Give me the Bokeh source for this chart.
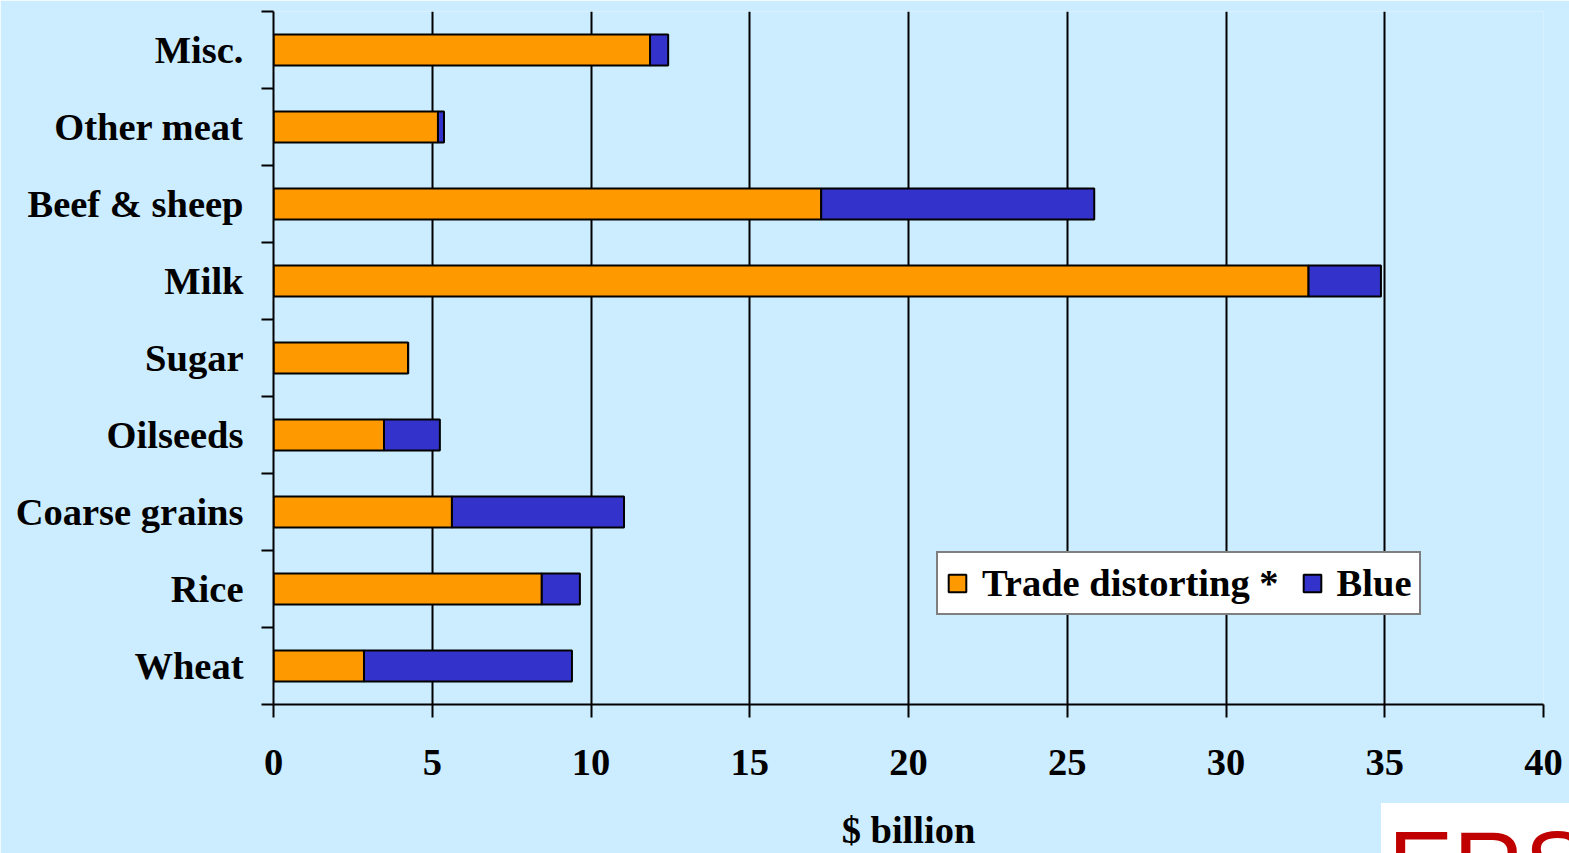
from bokeh.plotting import figure
from bokeh.models import ColumnDataSource, FixedTicker, Range1d, Legend, Div
from bokeh.layouts import column
from bokeh.embed import file_html
from bokeh.resources import INLINE

categories = ["Wheat", "Rice", "Coarse grains", "Oilseeds", "Sugar", "Milk",
              "Beef & sheep", "Other meat", "Misc."]
trade_distorting = [2.85, 8.45, 5.62, 3.48, 4.24, 32.6, 17.25, 5.18, 11.86]
blue = [6.55, 1.2, 5.42, 1.76, 0.0, 2.28, 8.6, 0.19, 0.57]
x_ticks = [0, 5, 10, 15, 20, 25, 30, 35, 40]
series_names = ["Trade distorting *", "Blue"]
colors = ["#FF9900", "#3333CC"]
logo_text = "ERS"

BG = "#CCECFF"
FONT = "Liberation Serif"
FS = "38.5px"
W, H = 1569, 853
LOGO_W, LOGO_H = 188, 50
LOGO_LEFT = W - LOGO_W

pos = [i + 0.5 for i in range(len(categories))]
source = ColumnDataSource(dict(pos=pos, trade=trade_distorting, blue=blue))

p = figure(width=W, height=H, output_backend="svg", toolbar_location=None,
           x_range=Range1d(0, 40), y_range=Range1d(0, len(categories)),
           min_border_left=273, min_border_right=26, min_border_top=11,
           min_border_bottom=149)
p.background_fill_color = BG
p.border_fill_color = BG
p.outline_line_color = None

rs = p.hbar_stack(["trade", "blue"], y="pos", height=0.4, source=source,
                  color=colors, line_color="black", line_width=2)

# axes
xa = p.xaxis[0]
xa.ticker = FixedTicker(ticks=x_ticks)
xa.axis_line_width = 2
xa.major_tick_line_width = 2
xa.major_tick_out = 13
xa.major_tick_in = 0
xa.minor_tick_line_color = None
xa.major_label_text_font = FONT
xa.major_label_text_font_style = "bold"
xa.major_label_text_font_size = FS
xa.major_label_text_color = "black"
xa.major_label_standoff = 32
xa.axis_label = "$ billion"
xa.axis_label_text_font = FONT
xa.axis_label_text_font_style = "bold"
xa.axis_label_text_font_size = FS
xa.axis_label_text_color = "black"
xa.axis_label_standoff = 31

ya = p.yaxis[0]
ya.ticker = FixedTicker(ticks=pos, minor_ticks=list(range(len(categories) + 1)))
ya.major_label_overrides = {v: c for v, c in zip(pos, categories)}
ya.axis_line_width = 2
ya.major_tick_line_color = None
ya.major_tick_out = 0
ya.major_tick_in = 0
ya.minor_tick_line_width = 2
ya.minor_tick_line_color = "black"
ya.minor_tick_out = 12
ya.minor_tick_in = 0
ya.major_label_text_font = FONT
ya.major_label_text_font_style = "bold"
ya.major_label_text_font_size = FS
ya.major_label_text_color = "black"
ya.major_label_standoff = 18

p.xgrid.grid_line_color = "black"
p.xgrid.grid_line_width = 2
p.xgrid.grid_line_alpha = 1
p.ygrid.grid_line_color = None

legend = Legend(items=[(series_names[0], [rs[0]]), (series_names[1], [rs[1]])],
                location=(663, 89), orientation="horizontal")
legend.label_text_font = FONT
legend.label_text_font_style = "bold"
legend.label_text_font_size = FS
legend.label_text_color = "black"
legend.glyph_width = 22
legend.glyph_height = 22
legend.label_standoff = 14
legend.spacing = 22
legend.padding = 8
legend.margin = 0
legend.border_line_color = "black"
legend.border_line_width = 2
legend.background_fill_color = "white"
legend.background_fill_alpha = 1
p.add_layout(legend, "center")

# ERS logo in the bottom-right corner, cut off by the page edge
logo_html = (
    f'<div style="width:{LOGO_W}px;height:{LOGO_H}px;box-sizing:border-box;'
    'background:white;overflow:hidden;white-space:nowrap;'
    "font-family:'Liberation Sans',sans-serif;font-size:98px;line-height:1;"
    'color:#C00000;padding-left:7px;padding-top:14px;margin:0;">'
    f'{logo_text}</div>'
)
logo = Div(text=logo_html, width=LOGO_W, height=LOGO_H,
           margin=(-LOGO_H, 0, 0, LOGO_LEFT),
           styles={"overflow": "hidden"})

layout = column(p, logo, spacing=0)
open("out.html", "w").write(file_html(layout, INLINE))
